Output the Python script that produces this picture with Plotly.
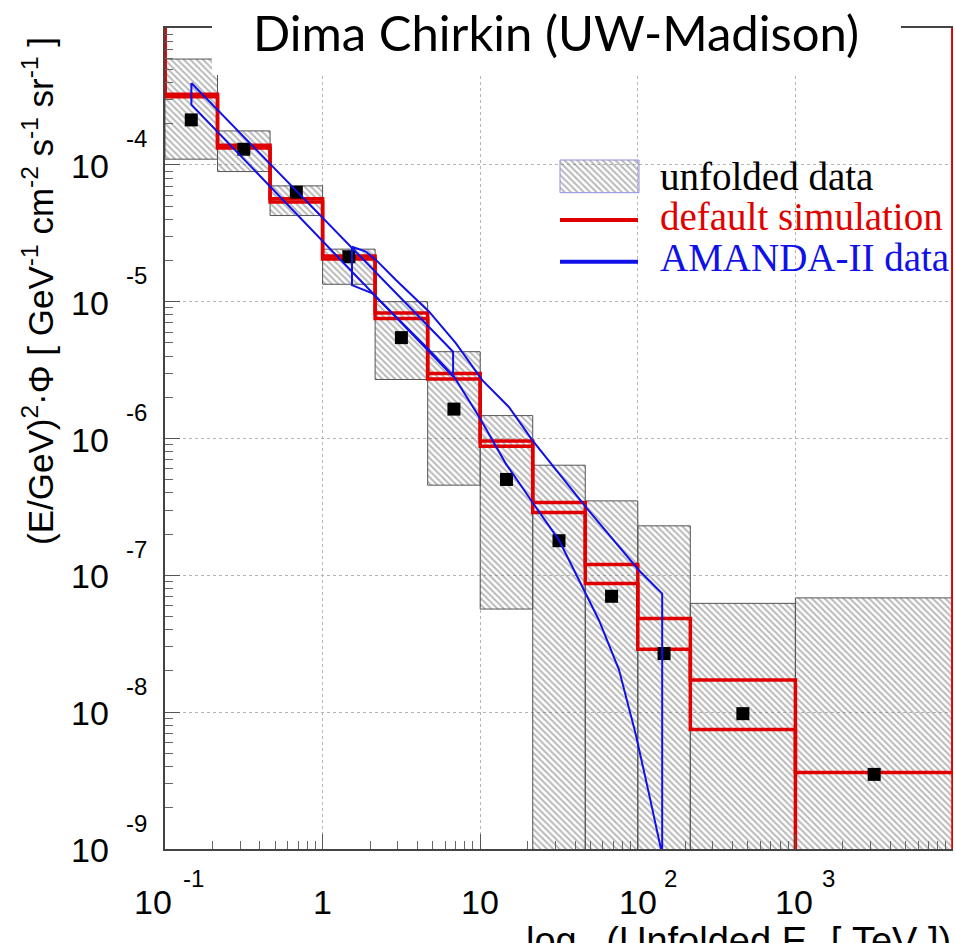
import numpy as np
import plotly.graph_objects as go

# ---------------------------------------------------------------- data
# energy bin edges of the unfolded spectrum [TeV]
bin_edges = [0.1, 0.2154, 0.4642, 1.0, 2.154, 4.642, 10.0, 21.54, 46.42, 100.0, 215.4, 1000.0, 10000.0]

# unfolded (E/GeV)^2 * flux per bin and its error band (0 = below the plotted range)
unfolded_flux = [2.13e-4, 1.30e-4, 6.31e-5, 2.13e-5, 5.46e-6, 1.64e-6, 5.02e-7, 1.79e-7,
                 7.03e-8, 2.68e-8, 9.75e-9, 3.51e-9]
band_high = [5.93e-4, 1.77e-4, 7.02e-5, 2.42e-5, 1.00e-5, 4.31e-6, 1.47e-6, 6.38e-7,
             3.50e-7, 2.30e-7, 6.24e-8, 6.84e-8]
band_low = [1.10e-4, 8.93e-5, 4.26e-5, 1.34e-5, 2.70e-6, 4.56e-7, 5.67e-8, 0, 0, 0, 0, 0]

# default simulation, two histograms
sim_a = [3.28e-4, 1.39e-4, 5.64e-5, 2.16e-5, 8.26e-6, 2.98e-6, 9.57e-7, 3.41e-7,
         1.20e-7, 4.83e-8, 1.72e-8, 0]
sim_b = [3.14e-4, 1.33e-4, 5.36e-5, 2.05e-5, 7.53e-6, 2.72e-6, 8.77e-7, 2.88e-7,
         8.71e-8, 2.88e-8, 7.48e-9, 3.63e-9]

# AMANDA-II bands: low-energy band (power law) ...
amanda1_energy = [0.147, 6.73]
amanda1_upper = [3.96e-4, 4.31e-6]
amanda1_lower = [2.75e-4, 2.83e-6]
# ... and high-energy band
amanda2_energy_upper = [1.536, 1.884, 2.18, 2.92, 4.74, 7.0, 10.3, 15.2, 21.4, 46.7, 101.6, 142.8]
amanda2_upper = [2.52e-5, 2.32e-5, 2.02e-5, 1.44e-5, 8.45e-6, 4.97e-6, 2.67e-6, 1.70e-6,
                 9.73e-7, 3.16e-7, 1.09e-7, 7.36e-8]
amanda2_energy_lower = [1.536, 2.07, 2.92, 4.74, 6.82, 9.84, 14.5, 22.5, 31.6, 46.7, 56.7,
                        75.9, 96.8, 117.7, 140.3]
amanda2_lower = [1.32e-5, 1.15e-5, 7.76e-6, 4.44e-6, 2.83e-6, 1.44e-6, 6.58e-7, 3.16e-7,
                 1.81e-7, 7.36e-8, 4.70e-8, 2.05e-8, 6.97e-9, 2.54e-9, 1.0e-9]

# axis decorations
x_tick_values = [0.1, 1, 10, 100, 1000]
x_tick_base = ["10", "1", "10", "10", "10"]
x_tick_power = ["-1", "", "", "2", "3"]
y_tick_powers = [-9, -8, -7, -6, -5, -4]

legend_labels = ["unfolded data", "default simulation", "AMANDA-II data"]

# ---------------------------------------------------------------- styles
W, H = 955, 943
ML, MR, MT, MB = 165, 2, 28, 94
PW, PH = W - ML - MR, H - MT - MB
XLOG = (-1, 4)
YLOG = (-9, -3)
FLOOR = 10 ** (YLOG[0] - 2)
CEIL = 10 ** (YLOG[1] + 2)

RED = "#e00000"
BLUE = "#1010e8"
HATCH = dict(shape="\\", fgcolor="#727272", bgcolor="rgba(0,0,0,0)", size=4.5, solidity=0.45)
SANS = "Liberation Sans, Arial, sans-serif"
SERIF = "Liberation Serif, Times New Roman, serif"


def px_x(p):
    return (p - ML) / PW


def px_y(p):
    return (H - MB - p) / PH


fig = go.Figure()

# error boxes of the unfolded spectrum
for i in range(len(unfolded_flux)):
    lo_e, hi_e = bin_edges[i], bin_edges[i + 1]
    lo = band_low[i] if band_low[i] > 0 else FLOOR
    hi = band_high[i]
    fig.add_trace(go.Scatter(
        x=[lo_e, hi_e, hi_e, lo_e, lo_e], y=[lo, lo, hi, hi, lo],
        mode="lines", fill="toself", fillcolor="rgba(0,0,0,0)", fillpattern=HATCH,
        line=dict(color="#555555", width=1), hoverinfo="skip", showlegend=False))


def step_outline(edges, values):
    xs, ys = [edges[0]], [CEIL]
    for i, v in enumerate(values):
        v = v if v > 0 else FLOOR
        xs += [edges[i], edges[i + 1]]
        ys += [v, v]
    xs.append(edges[-1])
    ys.append(CEIL)
    return xs, ys


for sim in (sim_a, sim_b):
    sx, sy = step_outline(bin_edges, sim)
    fig.add_trace(go.Scatter(x=sx, y=sy, mode="lines", line=dict(color=RED, width=3.5),
                             hoverinfo="skip", showlegend=False))

# unfolded points at the logarithmic bin centres
centres = [float(np.sqrt(bin_edges[i] * bin_edges[i + 1])) for i in range(len(unfolded_flux))]
fig.add_trace(go.Scatter(x=centres, y=unfolded_flux, mode="markers",
                         marker=dict(symbol="square", size=13, color="black"),
                         hoverinfo="skip", showlegend=False))

# AMANDA-II band outlines
b1x = amanda1_energy + amanda1_energy[::-1] + amanda1_energy[:1]
b1y = amanda1_upper + amanda1_lower[::-1] + amanda1_upper[:1]
fig.add_trace(go.Scatter(x=b1x, y=b1y, mode="lines", line=dict(color=BLUE, width=2),
                         hoverinfo="skip", showlegend=False))
b2x = (amanda2_energy_upper + [amanda2_energy_upper[-1]] + amanda2_energy_lower[::-1]
       + amanda2_energy_upper[:1])
b2y = amanda2_upper + [FLOOR] + amanda2_lower[::-1] + amanda2_upper[:1]
fig.add_trace(go.Scatter(x=b2x, y=b2y, mode="lines", line=dict(color=BLUE, width=2),
                         hoverinfo="skip", showlegend=False))

# legend key: hatched box drawn on a hidden overlay axis spanning the frame
kx0, kx1 = px_x(560), px_x(639)
ky0, ky1 = px_y(192.7), px_y(160)
fig.add_trace(go.Scatter(x=[kx0, kx1, kx1, kx0, kx0], y=[ky0, ky0, ky1, ky1, ky0],
                         xaxis="x2", yaxis="y2", mode="lines", fill="toself",
                         fillcolor="rgba(0,0,0,0)", fillpattern=HATCH,
                         line=dict(color="#8f8fe0", width=1), hoverinfo="skip",
                         showlegend=False))

shapes = [
    dict(type="line", xref="paper", yref="paper", x0=kx0, x1=px_x(638), y0=px_y(220), y1=px_y(220),
         line=dict(color=RED, width=4)),
    dict(type="line", xref="paper", yref="paper", x0=kx0, x1=px_x(638), y0=px_y(261.7),
         y1=px_y(261.7), line=dict(color=BLUE, width=4)),
    # white title box over the top of the frame
    dict(type="rect", xref="paper", yref="paper", x0=px_x(212), x1=px_x(901), y0=px_y(75),
         y1=px_y(-30), fillcolor="white", line=dict(width=0), layer="above"),
]

annotations = []
for text, color, yc in zip(legend_labels, ["black", RED, BLUE], [176, 217, 257]):
    annotations.append(dict(xref="paper", yref="paper", x=px_x(658), y=px_y(yc), text=text,
                            showarrow=False, xanchor="left", yanchor="middle",
                            font=dict(family=SERIF, size=39, color=color)))

# y tick labels
for p in y_tick_powers:
    annotations.append(dict(xref="paper", yref="y", x=px_x(90), y=p, text="10", showarrow=False,
                            xanchor="center", yanchor="middle", yshift=-1,
                            font=dict(family=SANS, size=34, color="black")))
    annotations.append(dict(xref="paper", yref="y", x=px_x(136), y=p, text=str(p),
                            showarrow=False, xanchor="center", yanchor="middle", yshift=26,
                            font=dict(family=SANS, size=24, color="black")))

# x tick labels
x_base_shift = [-12.5, 0, 0, 0, -1]
x_pow_shift = [28, 0, 0, 33, 33]
for v, base, pw, bs, ps in zip(x_tick_values, x_tick_base, x_tick_power, x_base_shift, x_pow_shift):
    annotations.append(dict(xref="x", yref="paper", x=np.log10(v), y=px_y(902), text=base,
                            showarrow=False, xanchor="center", yanchor="middle", xshift=bs,
                            font=dict(family=SANS, size=34, color="black")))
    if pw:
        annotations.append(dict(xref="x", yref="paper", x=np.log10(v), y=px_y(878), text=pw,
                                showarrow=False, xanchor="center", yanchor="middle", xshift=ps,
                                font=dict(family=SANS, size=24, color="black")))

# axis titles
annotations.append(dict(xref="paper", yref="paper", x=px_x(953), y=px_y(944),
                        text="log<sub>10</sub>(Unfolded E<sub>ν</sub> [ TeV ])",
                        showarrow=False, xanchor="right", yanchor="middle",
                        font=dict(family=SANS, size=38, color="black")))
annotations.append(dict(xref="paper", yref="paper", x=px_x(38), y=px_y(291), textangle=-90,
                        text="(E/GeV)<sup>2</sup>·Φ [ GeV<sup>-1</sup> cm<sup>-2</sup> "
                             "s<sup>-1</sup> sr<sup>-1</sup> ]",
                        showarrow=False, xanchor="center", yanchor="middle",
                        font=dict(family=SANS, size=35, color="black")))

# title
annotations.append(dict(xref="paper", yref="paper", x=px_x(556), y=px_y(32),
                        text="Dima Chirkin (UW-Madison)", showarrow=False,
                        xanchor="center", yanchor="middle",
                        font=dict(family="Lato, Open Sans, sans-serif", size=49, color="black")))

axis_common = dict(type="log", showticklabels=False, ticks="inside", ticklen=15, tickwidth=1,
                   tickcolor="#555", dtick=1, showgrid=True, griddash="dot",
                   gridcolor="#b5b5b5", gridwidth=1, zeroline=False, showline=True,
                   linecolor="#444", linewidth=1.5,
                   minor=dict(ticks="inside", ticklen=8, tickwidth=1, tickcolor="#666",
                              dtick="D1", showgrid=False))

fig.update_layout(
    width=W, height=H, margin=dict(l=ML, r=MR, t=MT, b=MB, pad=0),
    paper_bgcolor="white", plot_bgcolor="white", showlegend=False,
    xaxis=dict(range=list(XLOG), mirror=True, **axis_common),
    yaxis=dict(range=list(YLOG), mirror=False, **axis_common),
    xaxis2=dict(overlaying="x", range=[0, 1], visible=False, anchor="y2"),
    yaxis2=dict(overlaying="y", range=[0, 1], visible=False, anchor="x2"),
    shapes=shapes, annotations=annotations,
)

fig.write_html("out.html")
